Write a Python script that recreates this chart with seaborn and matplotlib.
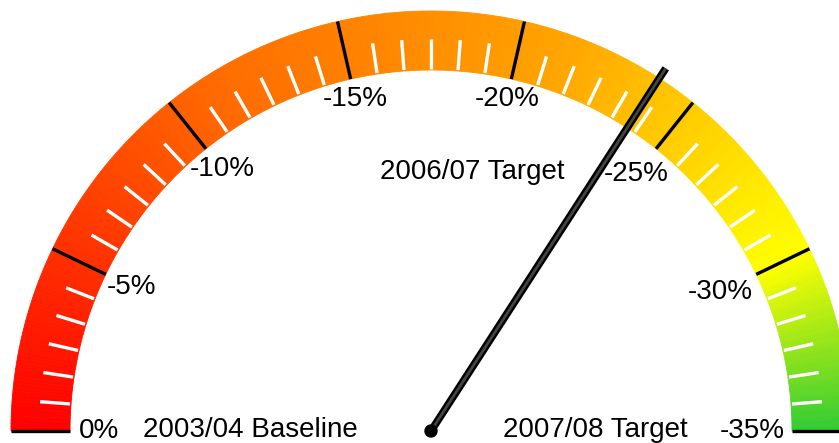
import numpy as np
import matplotlib
matplotlib.use("Agg")
import matplotlib.pyplot as plt
from matplotlib.patches import Wedge, Circle
from matplotlib.colors import LinearSegmentedColormap
import seaborn as sns

# gauge scale (percent change from baseline)
scale_min = 0
scale_max = -35
major_ticks = [0, -5, -10, -15, -20, -25, -30, -35]
tick_labels = ["0%", "-5%", "-10%", "-15%", "-20%", "-25%", "-30%", "-35%"]
minor_per_major = 6
needle_value = -23.9

# band colour stops (position along the scale, colour)
color_stops = [(0.0, "#ff0000"), (0.32, "#ff6a00"), (0.61, "#ffa500"),
               (0.86, "#ffff00"), (1.0, "#33cc33")]

# text labels on the face of the gauge
notes = ["2003/04 Baseline", "2006/07 Target", "2007/08 Target"]

sns.set_theme(style="white")
plt.rcParams["font.family"] = ["Liberation Sans", "DejaVu Sans"]
plt.rcParams["text.color"] = "black"

R_OUT, R_IN = 420, 361
CX, CY = 431, 0


def angle_of(v):
    return 180.0 - 180.0 * (v - scale_min) / (scale_max - scale_min)


def polar(r, deg):
    t = np.deg2rad(deg)
    return CX + r * np.cos(t), CY + r * np.sin(t)


def label_radius(th):
    if th > 140:
        return 332
    if th > 110:
        return 335
    if th >= 60:
        return 341
    if th > 40:
        return 329
    return 321


fig = plt.figure(figsize=(8.39, 4.43), dpi=100)
ax = fig.add_axes([0, 0, 1, 1])
ax.set_xlim(0, 839)
ax.set_ylim(-12, 431)
ax.set_aspect("equal")
ax.axis("off")

# coloured band
cmap = LinearSegmentedColormap.from_list("gauge", color_stops)
n_seg = 360
edges = np.linspace(0, 1, n_seg + 1)
for a, b in zip(edges[:-1], edges[1:]):
    col = cmap((a + b) / 2)
    ax.add_patch(Wedge((CX, CY), R_OUT, 180 - 180 * b, 180 - 180 * a,
                       width=R_OUT - R_IN, facecolor=col, edgecolor=col, lw=0.6))

# minor ticks
step = (major_ticks[1] - major_ticks[0]) / minor_per_major
minor_vals = np.arange(scale_min, scale_max + step / 2, step)
for v in minor_vals:
    if np.any(np.isclose(v, major_ticks)):
        continue
    th = angle_of(v)
    x0, y0 = polar(R_IN + 1, th)
    x1, y1 = polar(R_IN + 31, th)
    ax.plot([x0, x1], [y0, y1], color="white", lw=2.4, solid_capstyle="butt")

# major ticks and labels
for v, lab in zip(major_ticks, tick_labels):
    th = angle_of(v)
    x0, y0 = polar(R_IN, th)
    x1, y1 = polar(R_OUT, th)
    ax.plot([x0, x1], [y0, y1], color="black", lw=2.4, solid_capstyle="butt")
    lx, ly = polar(label_radius(th), th)
    ax.text(lx, ly, lab, ha="center", va="center", fontsize=20)

# face labels
ax.text(250, 1, notes[0], ha="center", va="center", fontsize=20)
ax.text(472, 259, notes[1], ha="center", va="center", fontsize=20)
ax.text(595, 1, notes[2], ha="center", va="center", fontsize=20)

# needle
th = angle_of(needle_value)
nx, ny = polar(432, th)
ax.plot([CX, nx], [CY, ny], color="black", lw=5.5, solid_capstyle="butt", zorder=5)
ax.plot([CX, nx], [CY, ny], color="#444444", lw=2.0, solid_capstyle="butt", zorder=6)
ax.add_patch(Circle((CX, CY), 6, color="black", zorder=7))

fig.savefig("out.png", dpi=100)
